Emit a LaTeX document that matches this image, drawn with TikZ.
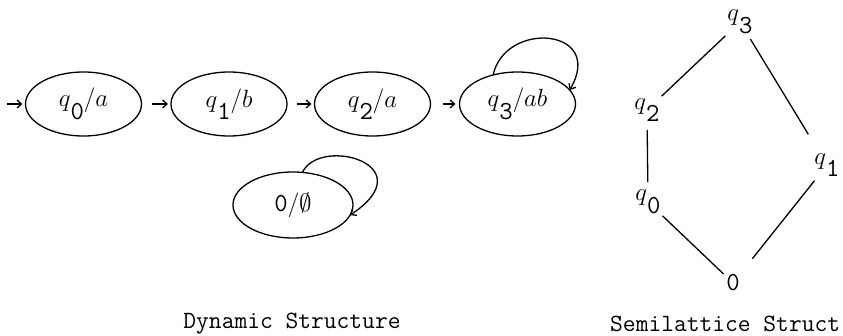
\documentclass[tikz,border=0pt]{standalone}
\usepackage{fontspec}
\usetikzlibrary{shapes.geometric,arrows.meta}
% typewriter digits and captions
\newcommand\digfont{\ttfamily\fontsize{26}{28}\selectfont}
\newcommand\capfont{\ttfamily\fontsize{24.8}{28}\selectfont}
% lowered full-size typewriter index
\newcommand\lsub[1]{\raisebox{-0.5em}{\digfont #1}}
\tikzset{
  lbl/.style={font=\fontsize{25}{28}\selectfont},
  state/.style={lbl, ellipse, draw, line width=1.3pt, inner sep=0pt, outer sep=0pt,
                minimum width=116pt, minimum height=64pt},
  tip/.style={-{Straight Barb[length=4.5pt,width=8pt]}, line width=1.3pt},
  vertex/.style={lbl, circle, inner sep=0pt, outer sep=0pt, minimum size=40pt},
  edge/.style={line width=1.3pt},
  caption/.style={font=\capfont, inner sep=0pt}
}
\begin{document}
\begin{tikzpicture}[x=1pt,y=-1pt]
\useasboundingbox (0,0) rectangle (843,336);

% dynamic structure: chain of states
\coordinate (init) at (7,104);
\node[state] (e0) at (83.5,104) {$q$\lsub{0}$/a$};
\node[state] (e1) at (229,104)  {$q$\lsub{1}$/b$};
\node[state] (e2) at (372.5,104) {$q$\lsub{2}$/a$};
\node[state] (e3) at (517.5,104) {$q$\lsub{3}$/ab$};
\node[state, minimum width=120pt, minimum height=66pt] (ez) at (293,205) {{\digfont 0}$/\emptyset$};

\draw[tip, shorten >=3pt] (init) -- (e0.west);
\draw[tip, shorten <=10pt, shorten >=3pt] (e0.east) -- (e1.west);
\draw[tip, shorten <=10pt, shorten >=3pt] (e1.east) -- (e2.west);
\draw[tip, shorten <=12pt, shorten >=4pt] (e2.east) -- (e3.west);

% self loops
\draw[tip] (e3.130) .. controls +(12,-55) and +(36,-62) .. (e3.15);
\draw[tip] (ez.74) .. controls +(18,-37) and +(75,-50) .. (ez.350);

\node[caption] (dcap) at (292,324) {Dynamic Structure};

% semilattice
\node[vertex] (l3) at (740,22)  {$q$\lsub{3}};
\node[vertex] (l2) at (647,110) {$q$\lsub{2}};
\node[vertex] (l0) at (648,202) {$q$\lsub{0}};
\node[vertex] (l1) at (827,165) {$q$\lsub{1}};
\node[vertex, minimum size=26pt] (lz) at (733,283) {\digfont 0};

\draw[edge] (l3) -- (l2);
\draw[edge, shorten >=16pt] (l3) -- (l1);
\draw[edge] (l2) -- (l0);
\draw[edge] (l0) -- (lz);
\draw[edge, shorten >=18pt] (l1) -- (lz);

\node[caption, anchor=west] (scap) at (610,324) {Semilattice Struct};
\end{tikzpicture}
\end{document}
